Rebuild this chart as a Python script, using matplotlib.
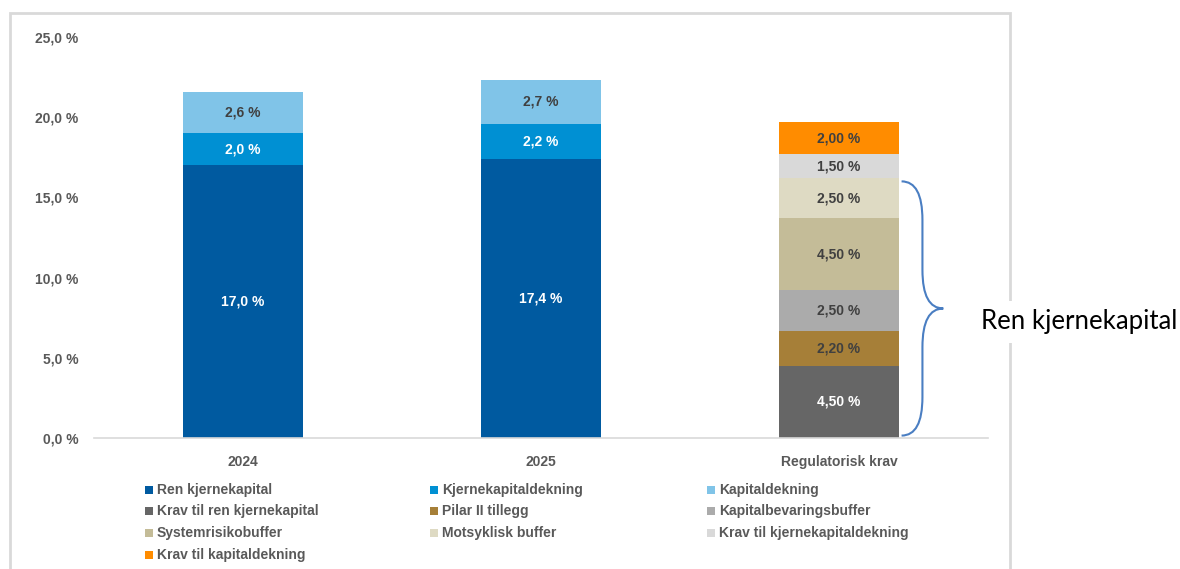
import matplotlib.pyplot as plt
from matplotlib.patches import Rectangle
from matplotlib.path import Path
from matplotlib.patches import PathPatch

plt.rcParams['font.family'] = ['Liberation Sans', 'DejaVu Sans']

categories = ['2024', '2025', 'Regulatorisk krav']

# faktiske kapitalnivåer (2024, 2025)
ren_kjernekapital = [17.0, 17.4]
kjernekapitaldekning = [2.0, 2.2]
kapitaldekning = [2.6, 2.7]

# regulatoriske krav, fra bunnen og opp
krav_labels = ['Krav til ren kjernekapital', 'Pilar II tillegg', 'Kapitalbevaringsbuffer',
               'Systemrisikobuffer', 'Motsyklisk buffer', 'Krav til kjernekapitaldekning',
               'Krav til kapitaldekning']
krav_values = [4.5, 2.2, 2.5, 4.5, 2.5, 1.5, 2.0]

yticks = [0, 5, 10, 15, 20, 25]
brace_label = 'Ren kjernekapital'

blue_colors = ['#005AA0', '#0090D3', '#80C4E8']
blue_text = ['white', 'white', '#404040']
krav_colors = ['#666666', '#A67F38', '#ABABAB', '#C4BC98', '#DEDAC3', '#D9D9D9', '#FF8C00']
krav_text = ['white', '#404040', '#404040', '#404040', '#404040', '#404040', '#404040']

W, H = 1180, 569
fig = plt.figure(figsize=(W / 100, H / 100), dpi=100)
ax = fig.add_axes([94 / W, 1 - 438 / H, (988 - 94) / W, 401 / H])

width = 0.4
label_kw = dict(ha='center', va='center', fontsize=10, fontweight='bold')

# 2024 og 2025
blue_series = [ren_kjernekapital, kjernekapitaldekning, kapitaldekning]
bottoms = [0.0, 0.0]
for vals, col, tcol in zip(blue_series, blue_colors, blue_text):
    ax.bar([0, 1], vals, width, bottom=bottoms, color=col, edgecolor='none')
    for i, v in enumerate(vals):
        ax.text(i, bottoms[i] + v / 2, f'{v:.1f}'.replace('.', ',') + ' %', color=tcol, **label_kw)
    bottoms = [b + v for b, v in zip(bottoms, vals)]

# regulatorisk krav
bottom = 0.0
for v, col, tcol in zip(krav_values, krav_colors, krav_text):
    ax.bar(2, v, width, bottom=bottom, color=col, edgecolor='none')
    ax.text(2, bottom + v / 2, f'{v:.2f}'.replace('.', ',') + ' %', color=tcol, **label_kw)
    bottom += v

ax.set_xlim(-0.5, 2.5)
ax.set_ylim(0, 25)
ax.set_yticks(yticks)
ax.set_yticklabels([f'{t:.1f}'.replace('.', ',') + ' %' for t in yticks])
ax.set_xticks(range(len(categories)))
ax.set_xticklabels(categories)
for lab in ax.get_xticklabels() + ax.get_yticklabels():
    lab.set_fontweight('bold')
    lab.set_fontsize(10)
    lab.set_color('#595959')
ax.tick_params(length=0)
ax.tick_params(axis='y', pad=11)
ax.tick_params(axis='x', pad=12)
for s in ['top', 'right', 'left']:
    ax.spines[s].set_visible(False)
ax.spines['bottom'].set_color('#D9D9D9')
ax.spines['bottom'].set_linewidth(1.2)

# klamme rundt ren kjernekapital-kravet
y_top = sum(krav_values[:5]) - 0.2
y_bot = 0.15
y_mid = (y_top + y_bot) / 2
x0, xm, xt, r = 2.21, 2.28, 2.35, 2.4
verts = [(x0, y_top), (xm, y_top), (xm, y_top - r), (xm, y_mid + r), (xm, y_mid), (xt, y_mid),
         (xm, y_mid), (xm, y_mid - r), (xm, y_bot + r), (xm, y_bot), (x0, y_bot)]
codes = [Path.MOVETO, Path.CURVE3, Path.CURVE3, Path.LINETO, Path.CURVE3, Path.CURVE3,
         Path.CURVE3, Path.CURVE3, Path.LINETO, Path.CURVE3, Path.CURVE3]
ax.add_patch(PathPatch(Path(verts, codes), fill=False, edgecolor='#4A7EC2', linewidth=1.5))

# ramme rundt diagrammet
fig.add_artist(Rectangle((10 / W, -0.05), 1000 / W, 1.05 - 13 / H, transform=fig.transFigure,
                         fill=False, edgecolor='#D9D9D9', linewidth=2, zorder=0))
fig.text(981 / W, 1 - 322 / H, brace_label, fontsize=18.5, family='Lato', ha='left', va='center',
         color='black', bbox=dict(facecolor='white', edgecolor='none', pad=6))

# legende, tre kolonner
legend_labels = ['Ren kjernekapital', 'Kjernekapitaldekning', 'Kapitaldekning'] + krav_labels
legend_colors = blue_colors + krav_colors
col_x = [145, 430, 707]
row_y = [490, 511, 533, 555]
for k, (lab, col) in enumerate(zip(legend_labels, legend_colors)):
    cx = col_x[k % 3]
    cy = row_y[k // 3]
    fig.add_artist(Rectangle((cx / W, 1 - (cy + 4) / H), 8 / W, 8 / H, transform=fig.transFigure,
                             facecolor=col, edgecolor='none'))
    fig.text((cx + 12) / W, 1 - cy / H, lab, fontsize=10, fontweight='bold', color='#595959',
             ha='left', va='center')

fig.savefig('out.png', dpi=100)
